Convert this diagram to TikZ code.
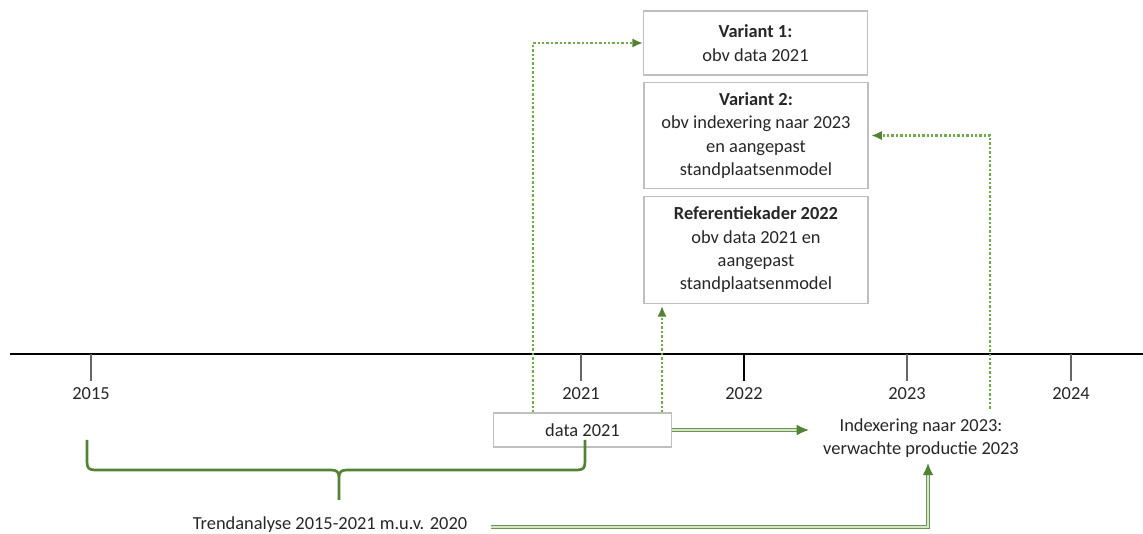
\documentclass[tikz,border=0pt]{standalone}
\usepackage{fontspec}
\setmainfont{Carlito}
\usetikzlibrary{arrows.meta}
\definecolor{lijngroen}{HTML}{70AD47}
\definecolor{donkergroen}{HTML}{548235}
\definecolor{kadergrijs}{HTML}{BFBFBF}
\definecolor{tekstgrijs}{HTML}{262626}

\begin{document}
\begin{tikzpicture}[x=0.75pt, y=-0.75pt, >={Latex[length=7pt,width=6pt]},
  kader/.style={draw=kadergrijs, line width=0.8pt, align=center, inner sep=0pt, minimum width=168pt},
  tekst/.style={text=tekstgrijs, font=\fontsize{13.8}{17.5}\selectfont},
  stippel/.style={draw=lijngroen, line width=1.6pt, dash pattern=on 1.8pt off 1.5pt, -{Latex[length=8pt,width=7pt,fill=donkergroen,color=donkergroen]}},
  dubbel/.style={draw=donkergroen!85, line width=0.7pt, double=lijngroen!30, double distance=1.4pt, -{Latex[length=9pt,width=8pt,color=donkergroen]}}]
\useasboundingbox (0,0) rectangle (1143,534);

% tijdlijn
\draw[line width=1.4pt] (10,354) -- (1143,354);
\foreach \x/\jaar in {91/2015, 581/2021, 907/2023, 1071/2024} {
  \draw[gray!80!black, line width=0.8pt] (\x,354) -- (\x,381);
  \node[tekst] (j\jaar) at (\x,394) {\jaar};
}
\draw[line width=2pt] (744,354) -- (744,381);
\node[tekst] (j2022) at (744,394) {2022};

% kaders
\node[kader, tekst, minimum height=48pt] (v1) at (755.5,43) {\textbf{Variant 1:}\\obv data 2021};
\node[kader, tekst, minimum height=80pt] (v2) at (756,135.5) {\textbf{Variant 2:}\\obv indexering naar 2023\\en aangepast\\standplaatsenmodel};
\node[kader, tekst, minimum height=80pt] (ref) at (756,250) {\textbf{Referentiekader 2022}\\obv data 2021 en\\aangepast\\standplaatsenmodel};
\node[kader, tekst, minimum width=133pt, minimum height=25.5pt] (data) at (582.5,430) {data 2021};
\node[tekst, align=center, inner sep=2pt] (index) at (921,438) {Indexering naar 2023:\\verwachte productie 2023};
\node[tekst] (trend) at (330,525) {Trendanalyse 2015-2021 m.u.v. 2020};

% accolade
\draw[donkergroen, line width=2pt]
  (87,440) -- (87,462) .. controls (87,468) and (89,470) .. (95,470)
  -- (331,470) .. controls (337,470) and (339,472) .. (339,478) -- (339,500)
  (339,478) .. controls (339,472) and (341,470) .. (347,470)
  -- (577,470) .. controls (583,470) and (585,468) .. (585,462) -- (585,440);

% pijlen
\coordinate (s1) at (533,0);
\coordinate (s2) at (662,0);
\coordinate (s3) at (990,0);
\coordinate (s4) at (928,0);
\draw[stippel] (data.north -| s1) |- (v1.west);
\draw[stippel] (data.north -| s2) -- ([yshift=-1.5pt]ref.south -| s2);
\draw[stippel] ([yshift=5pt]index.north -| s3) |- ([xshift=2pt]v2.east);
\draw[dubbel] (data.east) -- ++(137,0);
\draw[dubbel] ([xshift=14pt,yshift=-1.5pt]trend.east) -| ([yshift=-2pt]index.south -| s4);
\end{tikzpicture}
\end{document}
